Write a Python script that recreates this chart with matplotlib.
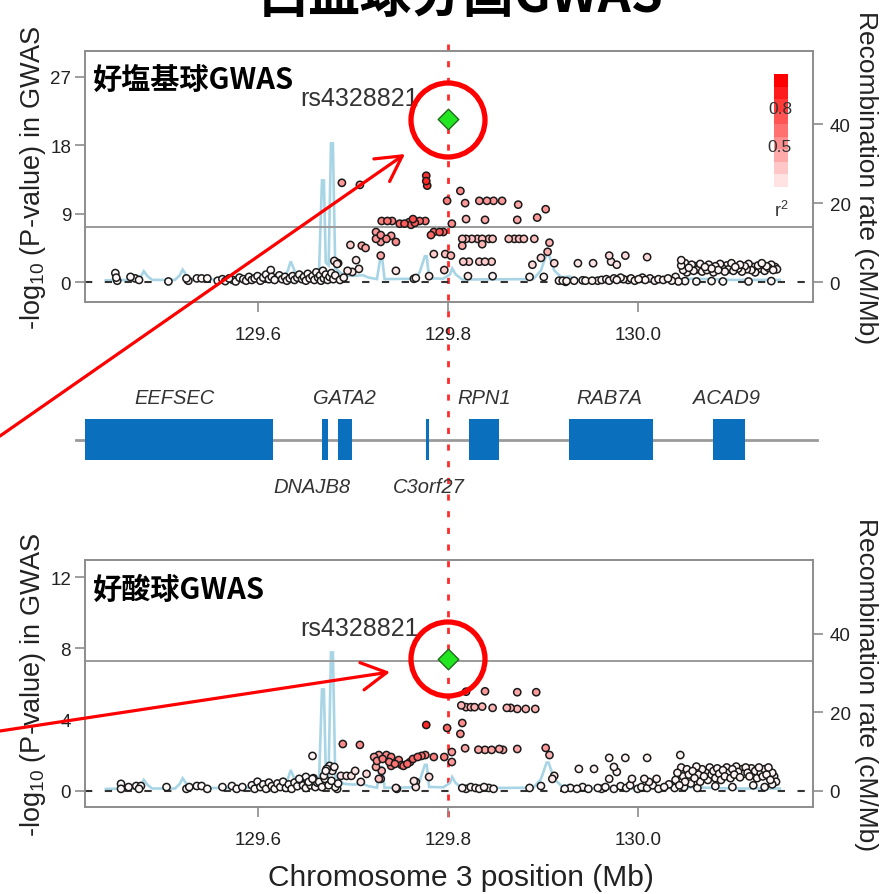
import matplotlib
matplotlib.use('Agg')
import matplotlib.pyplot as plt
import numpy as np
from matplotlib.colors import LinearSegmentedColormap
from matplotlib.patches import Rectangle, Ellipse, FancyArrowPatch
from matplotlib.lines import Line2D
import matplotlib.transforms as mtransforms

plt.rcParams['font.family'] = ['Liberation Sans', 'DejaVu Sans']
plt.rcParams['mathtext.fontset'] = 'custom'
plt.rcParams['mathtext.rm'] = 'Liberation Sans'
plt.rcParams['mathtext.it'] = 'Liberation Sans:italic'

# ---------------- data ----------------
title_text = "白血球分画GWAS"
panel_titles = ["好塩基球GWAS", "好酸球GWAS"]
lead_snp = "rs4328821"
lead_pos = 129.800
lead_logp = [21.5, 7.37]
sig_line = 7.3
x_ticks = [129.6, 129.8, 130.0]
x_ticklabels = ["129.6", "129.8", "130.0"]
upper_yticks = [0, 9, 18, 27]
lower_yticks = [0, 4, 8, 12]
recomb_ticks = [0, 20, 40]
legend_ticks = [0.8, 0.5]

recomb_pos = [129.439, 129.470, 129.476, 129.479, 129.483, 129.488, 129.512, 129.517, 129.520,
              129.524, 129.528, 129.600, 129.627, 129.631, 129.634, 129.638, 129.641, 129.660,
              129.664, 129.667, 129.669, 129.671, 129.674, 129.6765, 129.6785, 129.681, 129.690,
              129.700, 129.710, 129.716, 129.725, 129.7285, 129.7305, 129.733, 129.765, 129.770,
              129.7755, 129.7775, 129.780, 129.795, 129.802, 129.8044, 129.808, 129.815, 129.890,
              129.898, 129.904, 129.906, 129.912, 129.920, 129.928, 129.935, 130.000, 130.060,
              130.100, 130.150]
recomb_rate = [0.5, 0.6, 1.5, 2.8, 1.5, 0.6, 0.6, 1.8, 3.2, 1.8, 0.7, 0.8, 1.0, 3.0, 5.3, 3.0, 1.0, 1.5,
               3.5, 25.8, 25.8, 5.0, 4.3, 35.2, 35.2, 3.5, 1.8, 1.6, 1.8, 1.2, 0.8, 6.1, 6.1, 0.8,
               0.9, 2.5, 6.6, 6.6, 1.0, 0.9, 2.0, 3.5, 2.0, 0.7, 0.8, 3.0, 7.2, 7.2, 3.0, 1.2,
               1.5, 0.6, 0.5, 0.9, 0.6, 0.6]

genes = ["EEFSEC", "DNAJB8", "GATA2", "C3orf27", "RPN1", "RAB7A", "ACAD9"]
gene_start = [129.416, 129.6667, 129.6841, 129.7764, 129.8223, 129.9279, 130.0799]
gene_end = [129.6155, 129.6730, 129.6983, 129.7801, 129.8540, 130.0166, 130.1137]
gene_label_x = [129.5115, 129.656, 129.6912, 129.780, 129.838, 129.970, 130.094]
gene_label_row = ["top", "bottom", "top", "bottom", "top", "top", "top"]

# basophil GWAS SNPs: (position Mb, -log10 P, r2)
baso_background = [
    (129.449, 1.2, .03), (129.450, 0.6, .03), (129.451, 0.2, .03), (129.465, 0.7, .03), (129.470, 0.5, .03),
    (129.474, 0.3, .03), (129.505, 0.1, .03), (129.524, 0.5, .03), (129.526, 0.2, .03), (129.535, 0.5, .03),
    (129.540, 0.5, .03), (129.546, 0.5, .03), (129.557, 0.2, .03), (129.562, 0.4, .03), (129.565, 0.15, .03),
    (129.569, 0.5, .03), (129.573, 0.3, .03), (129.576, 0.1, .03), (129.580, 0.6, .03), (129.584, 0.4, .03),
    (129.587, 0.2, .03), (129.590, 0.7, .03), (129.593, 0.3, .03), (129.596, 0.5, .03), (129.599, 0.8, .03),
    (129.602, 0.2, .03), (129.605, 0.6, .03), (129.608, 1.0, .03), (129.611, 0.4, .03), (129.613, 1.6, .03),
    (129.614, 0.7, .03), (129.617, 0.3, .03), (129.620, 0.6, .03), (129.622, 0.9, .03), (129.625, 0.4, .03),
    (129.628, 0.7, .03), (129.630, 0.2, .03), (129.633, 0.5, .03), (129.636, 0.8, .03), (129.638, 0.3, .03),
    (129.641, 0.6, .03), (129.643, 1.0, .03), (129.646, 0.4, .03), (129.648, 0.7, .03), (129.650, 0.2, .03),
    (129.652, 1.1, .03), (129.654, 0.5, .03), (129.657, 0.8, .03), (129.659, 0.3, .03), (129.661, 1.3, .03),
    (129.663, 0.6, .03), (129.665, 0.9, .03), (129.666, 0.2, .03), (129.668, 1.5, .03), (129.669, 0.5, .03),
    (129.671, 1.0, .03), (129.673, 0.3, .03), (129.675, 0.7, .03), (129.677, 1.2, .03), (129.679, 0.4, .05),
    (129.681, 0.9, .05), (129.686, 0.3, .05), (129.690, 0.6, .05),
]
baso_peak = [
    (129.680, 2.8, .1), (129.682, 2.6, .1), (129.683, 2.4, .1), (129.684, 2.5, .05),
    (129.688, 13.07, .4), (129.707, 12.8, .4),
    (129.777, 14.0, .8), (129.777, 13.3, .85), (129.778, 12.7, .8),
    (129.813, 12.0, .45), (129.799, 10.7, .5), (129.818, 10.4, .4), (129.833, 10.7, .4), (129.841, 10.7, .4),
    (129.848, 10.7, .4), (129.857, 10.7, .4), (129.874, 10.2, .35), (129.903, 9.6, .4),
    (129.819, 8.3, .3), (129.839, 8.2, .35), (129.873, 8.2, .35), (129.894, 8.5, .4),
    (129.730, 8.05, .5), (129.736, 8.05, .55), (129.741, 8.05, .5), (129.749, 7.7, .6), (129.754, 7.7, .65),
    (129.759, 7.9, .6), (129.763, 8.3, .7), (129.765, 7.8, .65), (129.770, 8.05, .6), (129.776, 8.05, .55),
    (129.761, 7.55, .6),
    (129.785, 6.6, .6), (129.791, 6.6, .65), (129.795, 6.6, .6), (129.782, 6.2, .6), (129.804, 7.7, .45),
    (129.724, 6.6, .4), (129.729, 6.2, .45), (129.724, 5.7, .4), (129.735, 5.7, .45), (129.745, 5.3, .45),
    (129.729, 5.3, .4), (129.740, 6.1, .4),
    (129.709, 4.8, .35), (129.713, 4.5, .35), (129.697, 4.9, .2), (129.729, 3.5, .35),
    (129.815, 5.7, .25), (129.819, 5.7, .25), (129.825, 5.7, .25), (129.831, 5.7, .25), (129.836, 5.7, .25),
    (129.843, 5.7, .25), (129.847, 5.7, .25), (129.864, 5.7, .25), (129.870, 5.7, .25), (129.875, 5.7, .25),
    (129.880, 5.7, .25), (129.891, 5.7, .25),
    (129.815, 4.8, .35), (129.836, 5.0, .3), (129.907, 5.2, .3),
    (129.785, 3.7, .2), (129.797, 3.7, .25), (129.803, 3.5, .3),
    (129.816, 2.7, .2), (129.822, 2.7, .2), (129.833, 2.7, .2), (129.839, 2.7, .2), (129.846, 2.7, .2),
    (129.889, 2.3, .15), (129.898, 3.2, .15), (129.905, 4.0, .3), (129.912, 2.5, .15),
    (129.796, 1.6, .2), (129.745, 1.5, .1),
    (129.703, 2.9, .1), (129.706, 1.75, .1), (129.694, 1.5, .1), (129.699, 1.35, .1),
    (129.780, 0.8, .1), (129.766, 0.55, .05), (129.764, 0.45, .05), (129.821, 0.8, .1), (129.847, 0.8, .05),
    (129.886, 0.7, .05), (129.901, 0.7, .05), (129.924, 0.05, .02),
]
baso_right = [
    (129.937, 2.5, .1), (129.953, 2.5, .1), (129.970, 3.5, .15), (129.972, 2.7, .1), (129.978, 2.3, .1),
    (129.987, 3.5, .15), (130.010, 3.3, .15), (130.046, 2.9, .05),
    (129.917, 0.2, .05), (129.921, 0.2, .05), (129.925, 0.15, .05), (129.933, 0.2, .05), (129.942, 0.25, .05),
    (129.945, 0.2, .05), (129.952, 0.2, .05), (129.958, 0.2, .05), (129.962, 0.3, .05), (129.967, 0.4, .05),
    (129.970, 0.2, .05), (129.975, 0.5, .05), (129.978, 0.3, .05), (129.982, 0.6, .05), (129.985, 0.4, .05),
    (129.990, 0.3, .05), (129.993, 0.5, .05), (129.997, 0.2, .05), (130.001, 0.4, .05), (130.005, 0.6, .05),
    (130.008, 0.3, .05), (130.013, 0.5, .05), (130.018, 0.2, .05), (130.022, 0.4, .05), (130.027, 0.3, .05),
    (130.032, 0.5, .05), (130.036, 0.2, .05), (130.040, 0.7, .05), (130.043, 0.1, .05),
    (130.046, 2.2, .04), (130.048, 1.6, .04), (130.050, 2.5, .04), (130.052, 1.3, .04), (130.054, 1.9, .04),
    (130.057, 2.3, .04), (130.059, 1.5, .04), (130.061, 2.1, .04), (130.064, 1.7, .04), (130.066, 2.4, .04),
    (130.068, 1.4, .04), (130.071, 2.0, .04), (130.073, 1.6, .04), (130.075, 2.3, .04), (130.078, 1.8, .04),
    (130.080, 1.3, .04), (130.082, 2.1, .04), (130.085, 1.6, .04), (130.087, 2.4, .04), (130.089, 1.9, .04),
    (130.092, 1.4, .04), (130.094, 2.2, .04), (130.096, 1.7, .04), (130.099, 2.5, .04), (130.101, 1.5, .04),
    (130.103, 2.0, .04), (130.106, 1.8, .04), (130.108, 2.3, .04), (130.110, 1.4, .04), (130.113, 2.1, .04),
    (130.115, 1.7, .04), (130.117, 2.4, .04), (130.120, 1.6, .04), (130.122, 2.0, .04), (130.124, 1.3, .04),
    (130.127, 2.2, .04), (130.129, 1.8, .04), (130.131, 2.5, .04), (130.134, 1.5, .04), (130.136, 2.1, .04),
    (130.138, 1.9, .04), (130.141, 2.3, .04), (130.143, 1.6, .04), (130.145, 2.0, .04), (130.147, 1.7, .04),
    (130.050, 0.15, .03), (130.062, 0.1, .03), (130.078, 0.15, .03), (130.090, 0.1, .03), (130.117, 0.1, .03),
    (130.141, 0.15, .03),
]

# eosinophil GWAS SNPs: (position Mb, -log10 P, r2)
eos_background = [
    (129.455, 0.38, .03), (129.455, 0.1, .03), (129.463, 0.2, .03), (129.471, 0.26, .03), (129.476, 0.26, .03),
    (129.474, 0.1, .03), (129.503, 0.2, .03), (129.524, 0.1, .03), (129.527, 0.2, .03), (129.535, 0.26, .03),
    (129.540, 0.26, .03), (129.546, 0.1, .03), (129.562, 0.2, .03), (129.572, 0.26, .03), (129.577, 0.1, .03),
    (129.583, 0.2, .03), (129.593, 0.3, .03), (129.596, 0.1, .03), (129.599, 0.5, .03), (129.602, 0.2, .03),
    (129.605, 0.35, .03), (129.608, 0.1, .03), (129.611, 0.45, .03), (129.614, 0.25, .03), (129.617, 0.1, .03),
    (129.620, 0.4, .03), (129.623, 0.2, .03), (129.626, 0.5, .03), (129.629, 0.15, .03), (129.632, 0.35, .03),
    (129.635, 0.1, .03), (129.638, 0.45, .03), (129.641, 0.25, .03), (129.644, 0.6, .03), (129.647, 0.3, .03),
    (129.650, 0.15, .03), (129.652, 0.5, .03), (129.655, 0.3, .03), (129.658, 0.7, .03), (129.660, 0.2, .03),
    (129.662, 0.45, .03), (129.650, 0.77, .03), (129.653, 0.49, .03), (129.643, 0.66, .03), (129.657, 0.66, .03),
    (129.657, 1.95, .05), (129.683, 0.1, .03),
    (129.664, 0.49, .03), (129.667, 0.2, .03), (129.670, 0.66, .03), (129.674, 0.3, .03), (129.677, 0.55, .03),
    (129.681, 0.2, .03), (129.684, 0.4, .03),
    (129.675, 1.39, .05), (129.678, 1.11, .05), (129.671, 1.11, .05), (129.669, 0.83, .05), (129.672, 1.22, .05),
    (129.680, 1.33, .05),
    (129.702, 1.11, .1), (129.698, 0.83, .1), (129.693, 0.83, .1), (129.687, 0.83, .1), (129.714, 0.94, .15),
    (129.708, 0.49, .1),
]
eos_peak = [
    (129.819, 5.56, .4), (129.839, 5.58, .4), (129.873, 5.53, .35), (129.893, 5.53, .4),
    (129.814, 4.79, .3), (129.819, 4.69, .3), (129.824, 4.69, .3), (129.828, 4.69, .3), (129.836, 4.72, .3),
    (129.847, 4.65, .3), (129.862, 4.65, .3), (129.866, 4.65, .3), (129.873, 4.59, .3), (129.882, 4.59, .3),
    (129.892, 4.59, .3),
    (129.777, 3.69, .85), (129.799, 3.52, .6), (129.815, 3.8, .45), (129.813, 3.19, .45),
    (129.689, 2.62, .45), (129.707, 2.57, .45),
    (129.818, 2.38, .35), (129.832, 2.3, .35), (129.839, 2.29, .35), (129.846, 2.29, .35), (129.854, 2.34, .35),
    (129.858, 2.29, .35), (129.873, 2.34, .35), (129.903, 2.4, .4), (129.907, 2.0, .3),
    (129.722, 1.89, .4), (129.725, 1.67, .45), (129.727, 2.0, .4), (129.731, 1.78, .5), (129.735, 2.0, .45),
    (129.738, 1.61, .5), (129.740, 1.89, .5), (129.744, 1.5, .55), (129.748, 1.72, .5), (129.753, 1.39, .6),
    (129.757, 1.5, .6), (129.760, 1.61, .55), (129.763, 1.78, .6), (129.768, 1.89, .6), (129.772, 1.95, .55),
    (129.776, 2.0, .5), (129.724, 1.33, .35), (129.730, 1.11, .3), (129.727, 0.66, .25), (129.740, 1.39, .5),
    (129.751, 1.44, .55),
    (129.785, 1.89, .5), (129.796, 1.89, .5), (129.804, 2.17, .4), (129.804, 1.61, .4),
    (129.729, 0.66, .2), (129.745, 0.15, .1), (129.766, 0.49, .1), (129.766, 0.2, .1), (129.780, 0.77, .15),
    (129.764, 0.54, .1), (129.746, 0.1, .1),
    (129.815, 0.15, .05), (129.819, 0.1, .05), (129.824, 0.2, .05), (129.829, 0.15, .05), (129.833, 0.1, .05),
    (129.838, 0.2, .05), (129.843, 0.15, .05), (129.848, 0.1, .05),
    (129.886, 0.15, .05), (129.898, 0.26, .05), (129.912, 0.83, .1), (129.910, 0.66, .1),
]
eos_right = [
    (129.938, 1.22, .05), (129.954, 1.22, .05), (129.970, 1.84, .05), (129.987, 1.84, .05), (130.010, 1.84, .05),
    (130.045, 2.0, .05), (129.975, 1.33, .05), (129.978, 1.05, .05), (129.970, 0.66, .05), (129.994, 0.66, .05),
    (130.007, 0.66, .05), (130.012, 0.49, .05), (130.020, 0.66, .05),
    (129.923, 0.1, .03), (129.929, 0.15, .03), (129.936, 0.1, .03), (129.942, 0.2, .03), (129.948, 0.1, .03),
    (129.958, 0.15, .03), (129.962, 0.1, .03), (129.966, 0.2, .03), (129.975, 0.1, .03), (129.982, 0.25, .03),
    (129.988, 0.15, .03), (129.992, 0.3, .03), (130.000, 0.1, .03), (130.004, 0.2, .03), (130.010, 0.15, .03),
    (130.016, 0.3, .03), (130.022, 0.1, .03), (130.028, 0.2, .03), (130.033, 0.35, .03), (130.039, 0.15, .03),
    (130.040, 0.6, .04), (130.042, 1.0, .04), (130.044, 0.3, .04), (130.046, 1.3, .04), (130.048, 0.8, .04),
    (130.050, 0.5, .04), (130.052, 1.2, .04), (130.054, 0.9, .04), (130.056, 0.4, .04), (130.058, 1.1, .04),
    (130.060, 0.7, .04), (130.062, 1.35, .04), (130.064, 0.9, .04), (130.066, 0.5, .04), (130.068, 1.2, .04),
    (130.070, 0.8, .04), (130.072, 1.0, .04), (130.074, 0.6, .04), (130.076, 1.3, .04), (130.078, 0.9, .04),
    (130.080, 1.1, .04), (130.082, 0.7, .04), (130.084, 1.25, .04), (130.086, 0.95, .04), (130.088, 0.6, .04),
    (130.090, 1.15, .04), (130.092, 0.8, .04), (130.094, 1.3, .04), (130.096, 1.0, .04), (130.098, 0.7, .04),
    (130.100, 1.2, .04), (130.102, 0.9, .04), (130.104, 1.35, .04), (130.106, 1.05, .04), (130.108, 0.75, .04),
    (130.110, 1.2, .04), (130.112, 0.95, .04), (130.114, 1.3, .04), (130.116, 1.0, .04), (130.118, 0.8, .04),
    (130.120, 1.25, .04), (130.122, 0.9, .04), (130.124, 1.1, .04), (130.126, 0.7, .04), (130.128, 1.3, .04),
    (130.130, 1.0, .04), (130.132, 0.8, .04), (130.134, 1.2, .04), (130.136, 0.9, .04), (130.138, 1.3, .04),
    (130.140, 0.6, .04), (130.142, 1.0, .04), (130.144, 0.8, .04), (130.146, 0.5, .04), (130.142, 0.35, .04),
    (130.049, 0.2, .03), (130.063, 0.15, .03), (130.082, 0.25, .03), (130.100, 0.2, .03), (130.122, 0.3, .03),
    (130.134, 0.2, .03),
]

# ---------------- layout ----------------
W, H = 883, 895
fig = plt.figure(figsize=(W / 100, H / 100), dpi=100)
fig.patch.set_facecolor('white')


def fx(px):
    return px / W


def fy(py):
    return 1 - py / H


XLIM = (129.417, 130.185)
GRAY = '#8c8c8c'
ld_cmap = LinearSegmentedColormap.from_list('ld', ['#ffffff', '#ff0000'])


def style_axes(ax):
    for s in ax.spines.values():
        s.set_color(GRAY)
        s.set_linewidth(1.2)


def make_panel(top, bottom, snps, ylim, yticks, rylim, lead_y, ptitle, title_y, label_y, legend):
    rect = [fx(85), fy(bottom), fx(813) - fx(85), (bottom - top) / H]
    ax = fig.add_axes(rect)
    ax2 = ax.twinx()
    ax2.plot(recomb_pos, recomb_rate, color='#a8d5e5', lw=1.9, zorder=1, solid_joinstyle='miter')
    ax2.set_ylim(rylim)
    ax2.set_yticks(recomb_ticks)
    ax2.tick_params(axis='y', direction='out', length=7, width=1.2, color=GRAY,
                    labelsize=13.5, labelcolor='#222222', pad=5)
    ax.set_zorder(ax2.get_zorder() + 1)
    ax.patch.set_visible(False)
    ax2.patch.set_visible(False)

    ax.axhline(sig_line, color='#9a9a9a', lw=1.4, zorder=1)
    ax.axhline(0, color='#333333', lw=1.5, dashes=(3.5, 6), zorder=1)
    pos = np.array([s[0] for s in snps])
    lp = np.array([s[1] for s in snps])
    r2 = np.array([s[2] for s in snps])
    order = np.argsort(r2)
    ax.scatter(pos[order], lp[order], c=r2[order], cmap=ld_cmap, vmin=0, vmax=1, marker='o', s=27,
               edgecolors='#1a1a1a', linewidths=1.1, zorder=3)
    ax.scatter([lead_pos], [lead_y], marker='D', s=110, c='#22e622', edgecolors='#1f6b1f',
               linewidths=1.0, zorder=4)
    ax.set_xlim(XLIM)
    ax.set_ylim(ylim)
    ax.set_yticks(yticks)
    ax.set_xticks(x_ticks)
    ax.set_xticklabels(x_ticklabels)
    ax.tick_params(axis='both', direction='out', length=7, width=1.2, color=GRAY,
                   labelsize=13.5, labelcolor='#222222')
    ax.tick_params(axis='x', pad=10)
    ax.tick_params(axis='y', pad=3)
    style_axes(ax)
    style_axes(ax2)

    fig.text(fx(93), fy(title_y), ptitle, fontfamily=['Noto Sans CJK JP', 'DejaVu Sans'],
             fontweight='bold', fontsize=21, ha='left', va='center', color='black')
    fig.text(fx(360), fy(label_y), lead_snp, fontsize=18, ha='center', va='center', color='#333333')

    mid = (top + bottom) / 2
    fig.text(fx(33), fy(mid), '-log$_{10}$ (P-value) in GWAS', rotation=90, fontsize=19.5,
             ha='center', va='center', color='#222222')
    fig.text(fx(866), fy(mid), 'Recombination rate (cM/Mb)', rotation=270, fontsize=19,
             ha='center', va='center', color='#222222')

    if legend:
        lax = fig.add_axes([fx(774), fy(200), fx(788) - fx(774), (200 - 75) / H])
        n = 10
        for i in range(n):
            v = i / (n - 1)
            lax.add_patch(Rectangle((0, i / n), 1, 1 / n, facecolor=ld_cmap(v), edgecolor='none'))
        lax.set_xlim(0, 1)
        lax.set_ylim(0, 1)
        lax.axis('off')
        for t, py in zip(legend_ticks, [110, 147]):
            fig.text(fx(780), fy(py), f"{t:.1f}", fontsize=12.5, ha='center', va='center', color='#333333')
        fig.text(fx(781), fy(211), 'r$^2$', fontsize=13, ha='center', va='center', color='#333333')
    return ax


ax_up = make_panel(52, 303, baso_background + baso_peak + baso_right, (-2.6, 30.4), upper_yticks,
                   (-5.0, 58.6), lead_logp[0], panel_titles[0], 80, 99, True)
ax_lo = make_panel(561, 808, eos_background + eos_peak + eos_right, (-0.92, 12.96), lower_yticks,
                   (-4.1, 58.7), lead_logp[1], panel_titles[1], 590, 629, False)

# gene track
gax = fig.add_axes([fx(85), fy(500), fx(813) - fx(85), 120 / H])
gax.set_xlim(XLIM)
gax.set_ylim(0, 1)
gax.axis('off')
gax.patch.set_visible(False)
gax.plot([129.408, 130.189], [0.49, 0.49], color='#9a9a9a', lw=2, clip_on=False, zorder=1)
for g, s, e, lx, row in zip(genes, gene_start, gene_end, gene_label_x, gene_label_row):
    gax.add_patch(Rectangle((s, 0.325), e - s, 0.342, facecolor='#0a6fbd', edgecolor='none', zorder=2))
    ly = 0.85 if row == 'top' else 0.10
    gax.text(lx, ly, g, fontsize=14.5, style='italic', ha='center', va='center', color='#333333')

fig.text(fx(461), fy(878), 'Chromosome 3 position (Mb)', fontsize=21.5, ha='center', va='center',
         color='#222222')

# title (partly cut off at the top, as in the source image)
fig.text(fx(461), fy(12), title_text, fontfamily=['Noto Sans CJK JP', 'DejaVu Sans'],
         fontweight='bold', fontsize=37, ha='center', va='baseline', color='black')

# red dotted vertical line through the lead SNP
blend = mtransforms.blended_transform_factory(ax_up.transData, fig.transFigure)
vline = Line2D([lead_pos, lead_pos], [fy(45), fy(818)], transform=blend, color='#ff2a2a', lw=2,
               dashes=(2.2, 3.8), zorder=-1)
fig.add_artist(vline)

# red circles and arrows
for cy in [121, 660]:
    fig.add_artist(Ellipse((fx(448), fy(cy)), 74 / W, 74 / H, transform=fig.transFigure, fill=False,
                           edgecolor='#ff0000', lw=3.8, zorder=10))
for (x0, y0), (x1, y1) in [((0, 437), (405, 155)), ((0, 732), (390, 673))]:
    fig.add_artist(FancyArrowPatch((fx(x0), fy(y0)), (fx(x1), fy(y1)), transform=fig.transFigure,
                                   arrowstyle='->,head_length=0.4,head_width=0.22', mutation_scale=45,
                                   color='#ff0000', lw=2.3, zorder=10, shrinkA=0, shrinkB=0))

fig.savefig('out.png', dpi=100)
